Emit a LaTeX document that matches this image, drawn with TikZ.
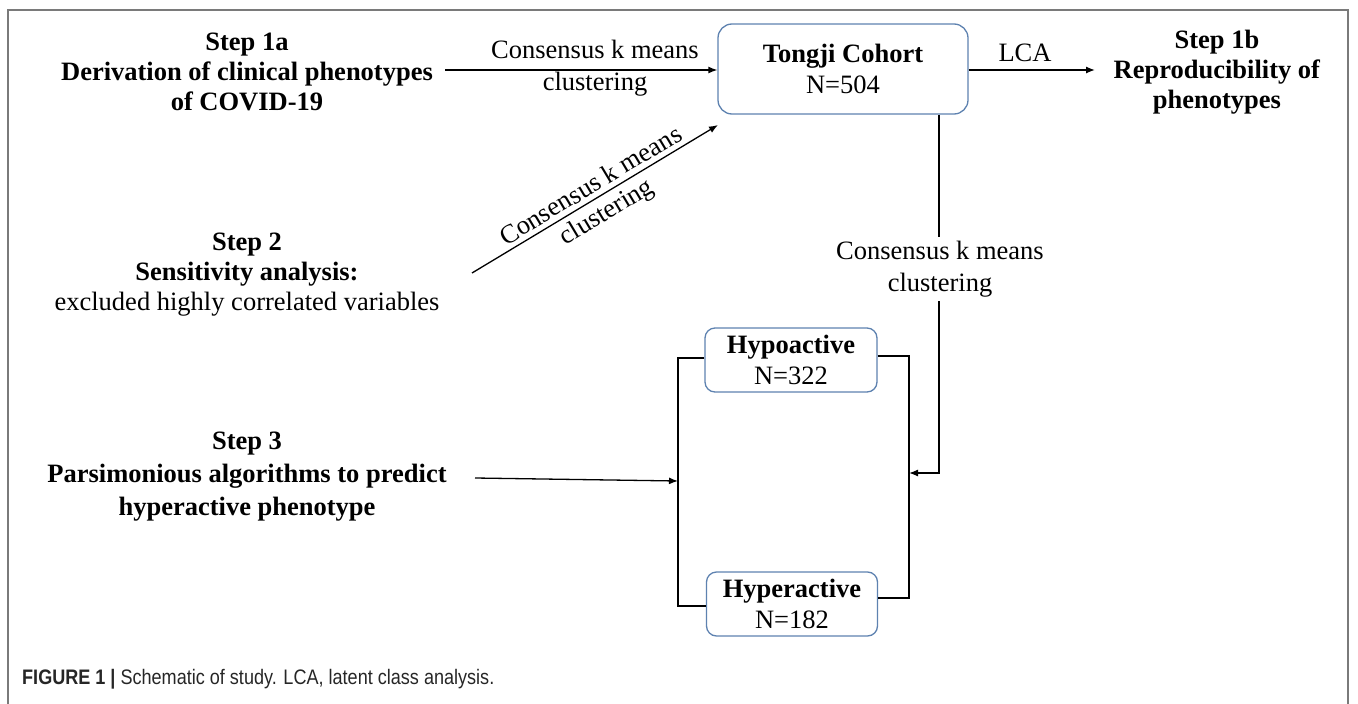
\documentclass[tikz,border=0pt]{standalone}
\usepackage{fontspec}
\setmainfont{Liberation Serif}
\newfontfamily\capfont[FakeStretch=0.86]{Liberation Sans}
\usetikzlibrary{arrows.meta}
\definecolor{boxblue}{HTML}{5E82B0}
\definecolor{framegray}{HTML}{7A7A7A}
\begin{document}
\begin{tikzpicture}[x=1pt,y=-1pt,
  txt/.style={font=\fontsize{26.5}{30}\selectfont, align=center, inner sep=0pt},
  lbl/.style={font=\fontsize{26.5}{32}\selectfont, align=center, inner sep=0pt},
  rbox/.style={draw=boxblue, line width=1.3pt, fill=white, align=center, inner sep=0pt, font=\fontsize{26.5}{31}\selectfont},
  arr/.style={-{Latex[length=9pt,width=7pt]}, line width=1.3pt},
  ln/.style={line width=1.1pt}]
\useasboundingbox (0,0) rectangle (1358,704);
% frame
\draw[framegray, line width=1.5pt] (8,708) -- (8,10) -- (1348,10) -- (1348,708);
% step texts
\node[txt] (s1a) at (247,72) {\textbf{Step 1a}\\\textbf{Derivation of clinical phenotypes}\\\textbf{of COVID-19}};
\node[txt] (s1b) at (1217,72) {\textbf{Step 1b}\\\textbf{Reproducibility of}\\\textbf{phenotypes}};
\node[txt] (s2) at (247,275) {\textbf{Step 2}\\\textbf{Sensitivity analysis:}\\excluded highly correlated variables};
\node[txt, font=\fontsize{26.5}{33}\selectfont] (s3) at (247,477) {\textbf{Step 3}\\\textbf{Parsimonious algorithms to predict}\\\textbf{hyperactive phenotype}};
% boxes
\node[rbox, rounded corners=14pt, minimum width=250pt, minimum height=90pt] (tj) at (843,69) {\textbf{Tongji Cohort}\\N=504};
\node[rbox, rounded corners=10pt, minimum width=172pt, minimum height=64pt] (hypo) at (791,360) {\textbf{Hypoactive}\\N=322};
\node[rbox, rounded corners=10pt, minimum width=171pt, minimum height=64pt] (hyper) at (792,604) {\textbf{Hyperactive}\\N=182};
% coordinates
\coordinate (a1s) at (445,70);
\coordinate (lcaE) at (1095,70);
\coordinate (dgS) at (472,273);
\coordinate (dgE) at (718,125);
\coordinate (s3s) at (475,478);
\coordinate (s3e) at (678,481);
\coordinate (vx) at (939,0);
\coordinate (jr) at (909,473);
% connectors
\node[lbl] (hl) at (595,68) {Consensus k means\\clustering};
\draw[arr] (a1s) -- (a1s -| tj.west);
\draw[arr] (tj.east |- lcaE) -- (lcaE);
\node[lbl, anchor=base] (lca) at (1025,61) {LCA};
\draw[arr] (dgS) -- (dgE);
\node[lbl, font=\fontsize{26.5}{30}\selectfont, rotate=31] (dl) at (599.5,200) {Consensus k means\\clustering};
\node[lbl, inner ysep=4pt] (vl) at (940,269) {Consensus k means\\clustering};
\draw[ln] (tj.south -| vx) -- (vl.north -| vx);
\draw[arr] (vl.south -| vx) |- (jr);
\draw[ln] (hypo.east |- 0,356) -- (909,356) -- (909,598) -- (hyper.east |- 0,598);
\draw[ln] (hypo.west |- 0,358) -- (678,358) -- (678,606) -- (hyper.west |- 0,606);
\draw[arr] (s3s) -- (s3e);
% caption
\node[anchor=base west, inner sep=0pt, font=\capfont\fontsize{21}{24}\selectfont, text=black!85] (cap) at (22,684) {\textbf{FIGURE 1 |} Schematic of study. LCA, latent class analysis.};
\end{tikzpicture}
\end{document}
